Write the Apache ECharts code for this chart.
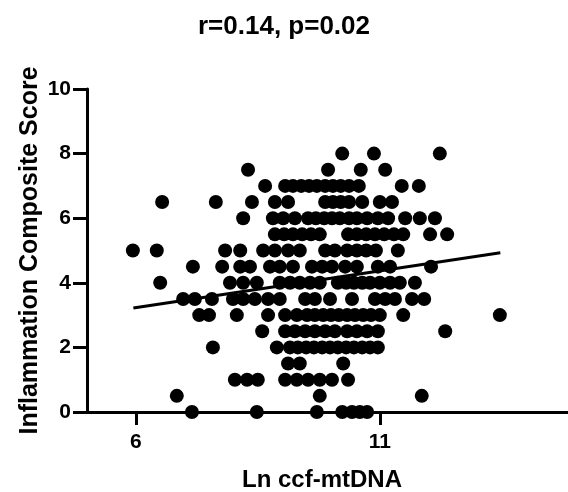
<!DOCTYPE html>
<html>
<head>
<meta charset="utf-8">
<script src="https://cdn.jsdelivr.net/npm/echarts@6/dist/echarts.min.js"></script>
<style>
  html, body { margin: 0; padding: 0; background: #fff; }
  #chart { width: 568px; height: 492px; }
</style>
</head>
<body>
<div id="chart"></div>
<script>
// Inflammation score levels (y) and the Ln ccf-mtDNA values (x) found on each level
const scoreLevels = [8, 7.5, 7, 6.5, 6, 5.5, 5, 4.5, 4, 3.5, 3, 2.5, 2, 1.5, 1, 0.5, 0];
const lnByLevel = [
  [10.23, 10.88, 12.23],
  [8.30, 9.94, 10.61, 11.11],
  [8.65, 9.06, 9.22, 9.39, 9.55, 9.71, 9.88, 10.04, 10.20, 10.37, 10.57, 11.45, 11.80],
  [6.54, 7.64, 8.38, 8.85, 9.12, 9.88, 10.04, 10.20, 10.37, 10.64, 11.00, 11.25],
  [8.20, 8.81, 9.02, 9.26, 9.53, 9.69, 9.86, 10.02, 10.18, 10.37, 10.53, 10.74, 10.96, 11.17, 11.52, 11.82, 12.13],
  [8.85, 9.04, 9.22, 9.41, 9.59, 9.77, 10.35, 10.53, 10.72, 10.90, 11.09, 11.29, 11.48, 12.03, 12.38],
  [5.94, 6.43, 7.83, 8.14, 8.61, 8.85, 9.12, 9.36, 9.88, 10.08, 10.33, 10.53, 10.72, 10.92, 11.37],
  [7.17, 7.77, 8.14, 8.34, 8.75, 8.95, 9.22, 9.61, 9.82, 10.02, 10.29, 10.53, 10.96, 11.21, 12.05],
  [6.50, 7.93, 8.20, 8.48, 8.95, 9.16, 9.36, 9.57, 9.77, 10.14, 10.31, 10.47, 10.64, 10.80, 11.00, 11.21, 11.41, 11.72],
  [6.97, 7.21, 7.56, 7.99, 8.20, 8.44, 8.71, 8.95, 9.47, 9.67, 9.98, 10.43, 10.90, 11.11, 11.31, 11.66, 11.91],
  [7.30, 7.50, 8.07, 8.71, 9.06, 9.30, 9.51, 9.67, 9.84, 10.00, 10.16, 10.33, 10.49, 10.66, 10.82, 11.00, 11.48, 13.46],
  [8.59, 9.06, 9.26, 9.47, 9.67, 9.88, 10.08, 10.33, 10.53, 10.74, 10.96, 12.34],
  [7.58, 8.89, 9.16, 9.32, 9.49, 9.65, 9.82, 9.98, 10.14, 10.31, 10.47, 10.64, 10.80, 10.96],
  [9.12, 9.36, 10.25],
  [8.03, 8.28, 8.50, 9.06, 9.30, 9.53, 9.77, 10.02, 10.35],
  [6.84, 9.77, 11.86],
  [7.15, 8.48, 9.71, 10.23, 10.43, 10.59, 10.74]
];

// regression line end points
const fitX = [5.95, 13.47];
const fitY = [3.22, 4.93];

const xTicks = [6, 11];
const titleText = 'r=0.14, p=0.02';

const points = [];
scoreLevels.forEach((lvl, i) => {
  lnByLevel[i].forEach((x) => points.push([x, lvl]));
});

const font = 'Liberation Sans, Arial, Helvetica, sans-serif';
const chart = echarts.init(document.getElementById('chart'), null, { renderer: 'canvas' });

chart.setOption({
  animation: false,
  backgroundColor: '#fff',
  title: {
    text: titleText,
    left: 'center',
    top: 9,
    textStyle: { fontFamily: font, fontSize: 26, fontWeight: 'bold', color: '#000' }
  },
  // axis runs past the right edge of the picture, as in the original
  grid: { left: 87, right: -7, top: 89, bottom: 80, outerBoundsMode: 'none' },
  xAxis: {
    type: 'value',
    min: 5,
    max: 15,
    interval: 5,
    name: 'Ln ccf-mtDNA',
    nameLocation: 'middle',
    nameGap: 56,
    nameMoveOverlap: false,
    nameTextStyle: {
      fontFamily: font, fontSize: 24, fontWeight: 'bold', color: '#000',
      padding: [0, 18, 0, 0]
    },
    axisLine: { onZero: false, lineStyle: { color: '#000', width: 3 } },
    axisTick: { show: true, length: 13, customValues: xTicks, lineStyle: { color: '#000', width: 3 } },
    splitLine: { show: false },
    axisLabel: {
      margin: 20,
      fontFamily: font, fontSize: 21, fontWeight: 'bold', color: '#000',
      customValues: xTicks
    }
  },
  yAxis: {
    type: 'value',
    min: 0,
    max: 10,
    interval: 2,
    name: 'Inflammation Composite Score',
    nameLocation: 'middle',
    nameGap: 44,
    nameMoveOverlap: false,
    nameTextStyle: { fontFamily: font, fontSize: 25, fontWeight: 'bold', color: '#000' },
    axisLine: { show: true, lineStyle: { color: '#000', width: 3 } },
    axisTick: { show: true, length: 14, lineStyle: { color: '#000', width: 3 } },
    splitLine: { show: false },
    axisLabel: {
      margin: 16,
      fontFamily: font, fontSize: 21, fontWeight: 'bold', color: '#000'
    }
  },
  series: [
    {
      type: 'scatter',
      data: points,
      symbol: 'circle',
      symbolSize: 14,
      itemStyle: { color: '#000', opacity: 1 },
      z: 3
    },
    {
      type: 'line',
      data: fitX.map((x, i) => [x, fitY[i]]),
      symbol: 'none',
      lineStyle: { color: '#000', width: 3 },
      z: 4
    }
  ]
});
</script>
</body>
</html>
